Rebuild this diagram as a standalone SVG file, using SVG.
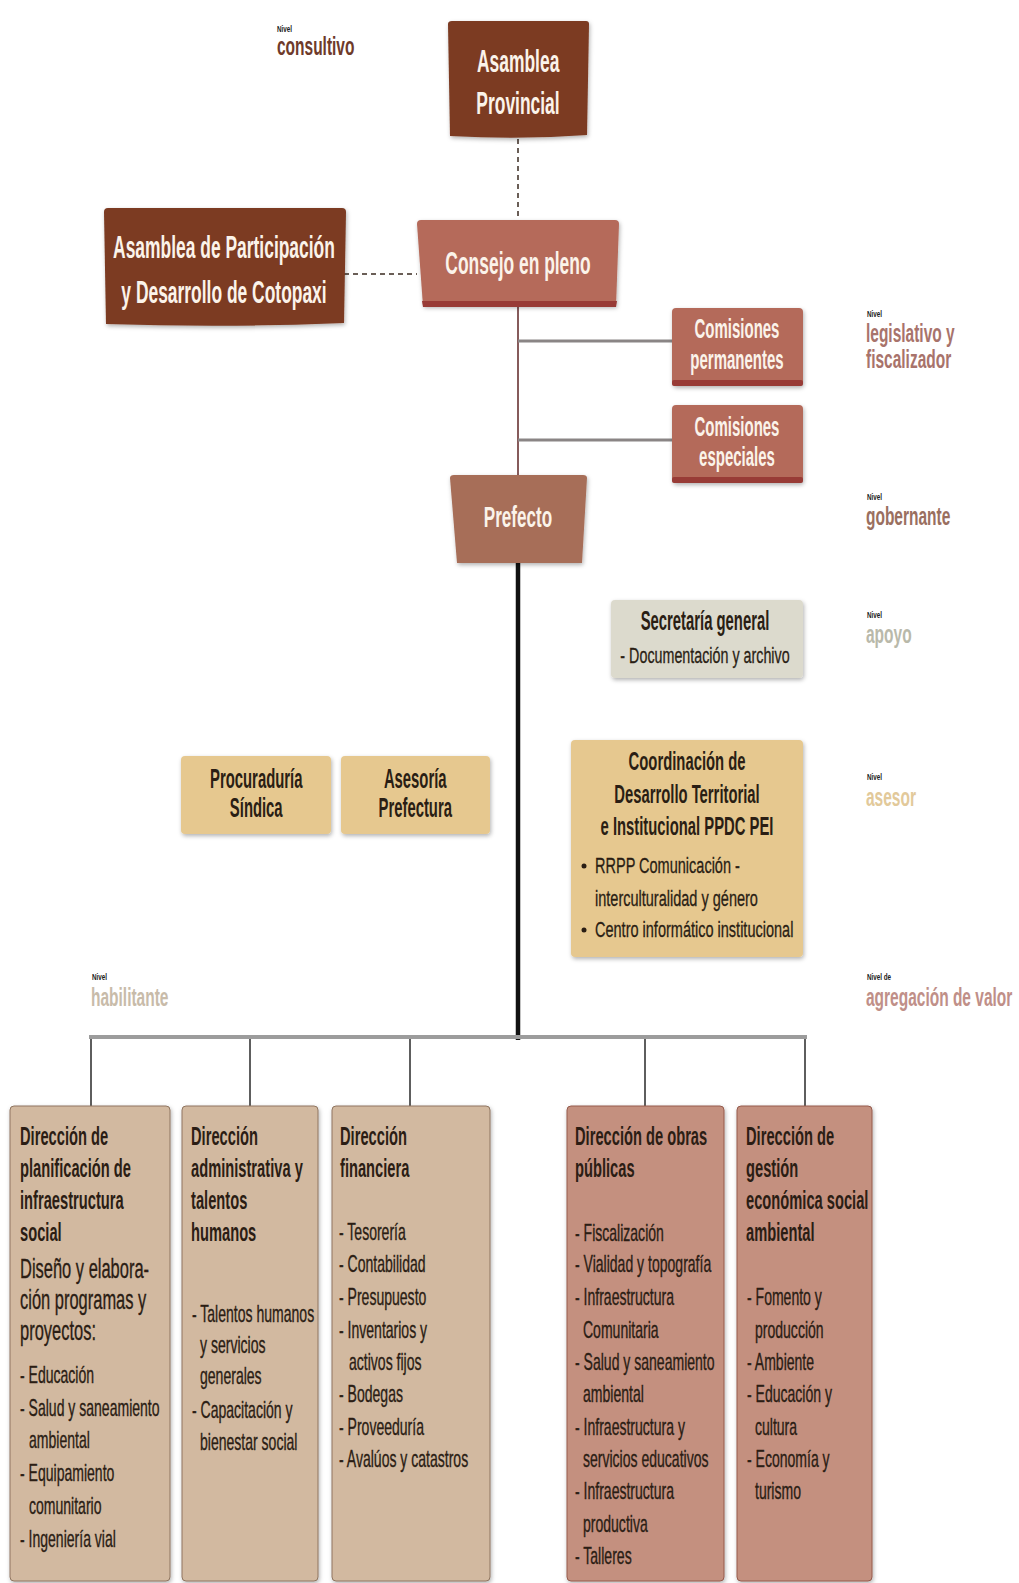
<svg xmlns="http://www.w3.org/2000/svg" width="1019" height="1583" viewBox="0 0 1019 1583">
<defs>
<filter id="sh" x="-10%" y="-10%" width="130%" height="130%">
<feDropShadow dx="1" dy="2" stdDeviation="2" flood-color="#000" flood-opacity="0.3"/>
</filter>
</defs>
<style>
text{font-family:"Liberation Sans",Arial,sans-serif}
.w{fill:#fbf3ea;font-weight:bold;font-size:32px;text-anchor:middle;transform-box:fill-box;transform-origin:50% 50%;transform:scaleX(.545)}
.cm{fill:#fbf3ea;font-weight:bold;font-size:27px;text-anchor:middle;transform-box:fill-box;transform-origin:50% 50%;transform:scaleX(.555)}
.d{fill:#2a1e14;font-weight:bold;font-size:27px;text-anchor:middle;transform-box:fill-box;transform-origin:50% 50%;transform:scaleX(.55)}
.ds{fill:#2a1e14;stroke:#2a1e14;stroke-width:.3;font-size:22px;text-anchor:middle;transform-box:fill-box;transform-origin:50% 50%;transform:scaleX(.65)}
.bl{fill:#2a1e14;stroke:#2a1e14;stroke-width:.3;font-size:22px;transform-box:fill-box;transform-origin:0 50%;transform:scaleX(.66)}
.t{fill:#2b1d14;font-weight:bold;font-size:26px;transform-box:fill-box;transform-origin:0 50%;transform:scaleX(.565)}
.b{fill:#2b1d14;stroke:#2b1d14;stroke-width:.35;font-size:23px;transform-box:fill-box;transform-origin:0 50%;transform:scaleX(.61)}
.bi{fill:#2b1d14;stroke:#2b1d14;stroke-width:.35;font-size:27px;transform-box:fill-box;transform-origin:0 50%;transform:scaleX(.61)}
.lv{font-size:25px;font-weight:bold;transform-box:fill-box;transform-origin:0 50%;transform:scaleX(.62)}
.nv{fill:#1a1a1a;font-weight:bold;font-size:9px;transform-box:fill-box;transform-origin:0 50%;transform:scaleX(.7)}
.dash{fill:none;stroke:#3a2a20;stroke-width:1.5;stroke-dasharray:5 4}
.drop{fill:none;stroke:#2a2a2a;stroke-width:1.5}
.hab{fill:#d2b9a0;stroke:#8f7560;stroke-width:1}
.agr{fill:#c4907f;stroke:#955a4c;stroke-width:1}
</style>
<rect width="1019" height="1583" fill="#ffffff"/>

<g id="connectors">
<path class="dash" d="M518,139 V219"/>
<path class="dash" d="M344,274 H417"/>
<path d="M518,306 V475" fill="none" stroke="#5e2424" stroke-width="1.5"/>
<path d="M518,341 H672 M518,440 H672" fill="none" stroke="#8a8585" stroke-width="3"/>
<path d="M518,563 V1040" fill="none" stroke="#111" stroke-width="4.5"/>
<path d="M89,1037 H807" fill="none" stroke="#9c9c9c" stroke-width="4"/>
<path class="drop" d="M91,1039 V1106 M250,1039 V1106 M410,1039 V1106 M645,1039 V1106 M805,1039 V1106"/>
</g>

<g id="levels">
<text class="nv" x="277" y="32">Nivel</text>
<text class="lv" x="277" y="55" fill="#6e3a2a">consultivo</text>
<text class="nv" x="867" y="317">Nivel</text>
<text class="lv" x="866" y="342" fill="#a8736b">legislativo y</text>
<text class="lv" x="866" y="368" fill="#a8736b">fiscalizador</text>
<text class="nv" x="867" y="500">Nivel</text>
<text class="lv" x="866" y="525" fill="#9a6f5f">gobernante</text>
<text class="nv" x="867" y="618">Nivel</text>
<text class="lv" x="866" y="643" fill="#b9b9aa">apoyo</text>
<text class="nv" x="867" y="780">Nivel</text>
<text class="lv" x="866" y="806" fill="#e2c99a">asesor</text>
<text class="nv" x="92" y="980">Nivel</text>
<text class="lv" x="91" y="1006" fill="#c8bba9">habilitante</text>
<text class="nv" x="867" y="980">Nivel de</text>
<text class="lv" x="866" y="1006" fill="#c08f88">agregación de valor</text>
</g>

<g id="asamblea-provincial">
<path d="M448,24 Q448,21 452,21 L586,21 Q589,21 589,24 L587,135 Q520,140 450,136 Z" fill="#7b3a22" filter="url(#sh)"/>
<text class="w" x="518" y="72">Asamblea</text>
<text class="w" x="518" y="114">Provincial</text>
</g>

<g id="asamblea-participacion">
<path d="M104,212 Q104,208 108,208 L342,208 Q346,208 346,212 L344,323 Q225,328 106,324 Z" fill="#7b3a22" filter="url(#sh)"/>
<text class="w" x="224" y="258">Asamblea de Participación</text>
<text class="w" x="224" y="303">y Desarrollo de Cotopaxi</text>
</g>

<g id="consejo">
<path d="M417,224 Q417,220 421,220 L615,220 Q619,220 619,224 L616,306 L423,306 Z" fill="#b56a5a" filter="url(#sh)"/>
<path d="M422,301 L617,301 L616,307 L423,307 Z" fill="#983b36"/>
<text class="w" x="518" y="274">Consejo en pleno</text>
</g>

<g id="comisiones-permanentes">
<rect x="672" y="308" width="131" height="78" rx="4" fill="#b46a5a" filter="url(#sh)"/>
<rect x="672" y="380" width="131" height="6" rx="2" fill="#983b36"/>
<text class="cm" x="737" y="338">Comisiones</text>
<text class="cm" x="737" y="369">permanentes</text>
</g>

<g id="comisiones-especiales">
<rect x="672" y="405" width="131" height="78" rx="4" fill="#b46a5a" filter="url(#sh)"/>
<rect x="672" y="477" width="131" height="6" rx="2" fill="#983b36"/>
<text class="cm" x="737" y="436">Comisiones</text>
<text class="cm" x="737" y="466">especiales</text>
</g>

<g id="prefecto">
<path d="M450,478 Q450,475 454,475 L583,475 Q587,475 587,478 L582,563 L457,563 Z" fill="#a76e58" filter="url(#sh)"/>
<text class="w" x="518" y="527" style="font-size:30px;transform:scaleX(.57)">Prefecto</text>
</g>

<g id="secretaria">
<rect x="611" y="600" width="192" height="78" rx="4" fill="#dcdacd" filter="url(#sh)"/>
<text class="d" x="705" y="630">Secretaría general</text>
<text class="ds" x="705" y="663">- Documentación y archivo</text>
</g>

<g id="procuraduria">
<rect x="181" y="756" width="150" height="78" rx="4" fill="#e6c88f" filter="url(#sh)"/>
<text class="d" x="256" y="788">Procuraduría</text>
<text class="d" x="256" y="817">Síndica</text>
</g>

<g id="asesoria">
<rect x="341" y="756" width="149" height="78" rx="4" fill="#e6c88f" filter="url(#sh)"/>
<text class="d" x="415" y="788">Asesoría</text>
<text class="d" x="415" y="817">Prefectura</text>
</g>

<g id="coordinacion">
<rect x="571" y="740" width="232" height="217" rx="4" fill="#e6c88f" filter="url(#sh)"/>
<text class="d" x="687" y="770" style="font-size:26px;transform:scaleX(.57)">Coordinación de</text>
<text class="d" x="687" y="803" style="font-size:26px;transform:scaleX(.57)">Desarrollo Territorial</text>
<text class="d" x="687" y="835" style="font-size:26px;transform:scaleX(.57)">e Institucional PPDC PEI</text>
<circle cx="584" cy="866" r="2.5" fill="#2a1e14"/>
<text class="bl" x="595" y="873">RRPP Comunicación -</text>
<text class="bl" x="595" y="906">interculturalidad y género</text>
<circle cx="584" cy="930" r="2.5" fill="#2a1e14"/>
<text class="bl" x="595" y="937">Centro informático institucional</text>
</g>

<g id="dir-planificacion">
<rect class="hab" x="10" y="1106" width="160" height="475" rx="4" filter="url(#sh)"/>
<text class="t" x="20" y="1145">Dirección de</text>
<text class="t" x="20" y="1177">planificación de</text>
<text class="t" x="20" y="1209">infraestructura</text>
<text class="t" x="20" y="1241">social</text>
<text class="bi" x="20" y="1278">Diseño y elabora-</text>
<text class="bi" x="20" y="1309">ción  programas y</text>
<text class="bi" x="20" y="1340">proyectos:</text>
<text class="b" x="20" y="1383">- Educación</text>
<text class="b" x="20" y="1416">- Salud y saneamiento</text>
<text class="b" x="29" y="1448">ambiental</text>
<text class="b" x="20" y="1481">- Equipamiento</text>
<text class="b" x="29" y="1514">comunitario</text>
<text class="b" x="20" y="1547">- Ingeniería vial</text>
</g>

<g id="dir-administrativa">
<rect class="hab" x="182" y="1106" width="136" height="475" rx="4" filter="url(#sh)"/>
<text class="t" x="191" y="1145">Dirección</text>
<text class="t" x="191" y="1177">administrativa y</text>
<text class="t" x="191" y="1209">talentos</text>
<text class="t" x="191" y="1241">humanos</text>
<text class="b" x="192" y="1322">- Talentos humanos</text>
<text class="b" x="200" y="1353">y servicios</text>
<text class="b" x="200" y="1384">generales</text>
<text class="b" x="192" y="1418">- Capacitación y</text>
<text class="b" x="200" y="1450">bienestar social</text>
</g>

<g id="dir-financiera">
<rect class="hab" x="332" y="1106" width="158" height="475" rx="4" filter="url(#sh)"/>
<text class="t" x="340" y="1145">Dirección</text>
<text class="t" x="340" y="1177">financiera</text>
<text class="b" x="339" y="1240">- Tesorería</text>
<text class="b" x="339" y="1272">- Contabilidad</text>
<text class="b" x="339" y="1305">- Presupuesto</text>
<text class="b" x="339" y="1338">- Inventarios y</text>
<text class="b" x="349" y="1370">activos fijos</text>
<text class="b" x="339" y="1402">- Bodegas</text>
<text class="b" x="339" y="1435">- Proveeduría</text>
<text class="b" x="339" y="1467">- Avalúos y catastros</text>
</g>

<g id="dir-obras">
<rect class="agr" x="567" y="1106" width="157" height="475" rx="4" filter="url(#sh)"/>
<text class="t" x="575" y="1145">Dirección de obras</text>
<text class="t" x="575" y="1177">públicas</text>
<text class="b" x="575" y="1241">- Fiscalización</text>
<text class="b" x="575" y="1272">- Vialidad y topografía</text>
<text class="b" x="575" y="1305">- Infraestructura</text>
<text class="b" x="583" y="1338">Comunitaria</text>
<text class="b" x="575" y="1370">- Salud y saneamiento</text>
<text class="b" x="583" y="1402">ambiental</text>
<text class="b" x="575" y="1435">- Infraestructura y</text>
<text class="b" x="583" y="1467">servicios educativos</text>
<text class="b" x="575" y="1499">- Infraestructura</text>
<text class="b" x="583" y="1532">productiva</text>
<text class="b" x="575" y="1564">- Talleres</text>
</g>

<g id="dir-gestion">
<rect class="agr" x="737" y="1106" width="135" height="475" rx="4" filter="url(#sh)"/>
<text class="t" x="746" y="1145">Dirección de</text>
<text class="t" x="746" y="1177">gestión</text>
<text class="t" x="746" y="1209">económica social</text>
<text class="t" x="746" y="1241">ambiental</text>
<text class="b" x="747" y="1305">- Fomento y</text>
<text class="b" x="755" y="1338">producción</text>
<text class="b" x="747" y="1370">- Ambiente</text>
<text class="b" x="747" y="1402">- Educación y</text>
<text class="b" x="755" y="1435">cultura</text>
<text class="b" x="747" y="1467">- Economía y</text>
<text class="b" x="755" y="1499">turismo</text>
</g>
</svg>
